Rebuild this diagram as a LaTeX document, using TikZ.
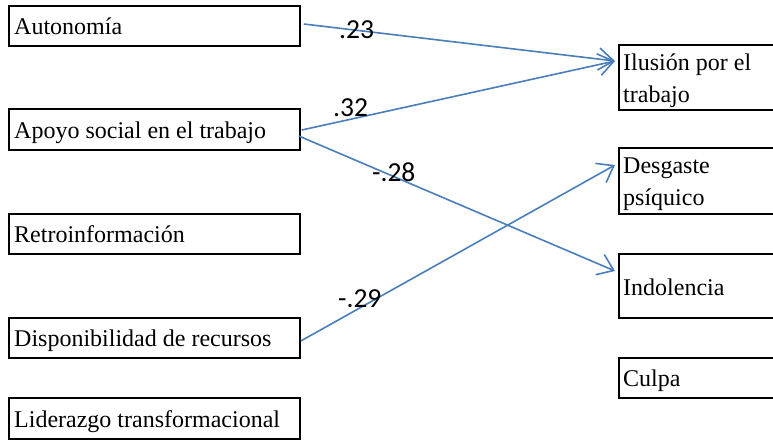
\documentclass[tikz,border=0pt]{standalone}
\usepackage{fontspec}
\setmainfont{Liberation Serif}
\newfontfamily\lblfont{Carlito}
\usetikzlibrary{arrows.meta,calc}
\definecolor{lineblue}{RGB}{74,126,187}
\begin{document}
\begin{tikzpicture}[x=1pt,y=-1pt,
  box/.style={draw=black,line width=1.8pt,anchor=north west,inner sep=0pt,minimum width=#1},
  box/.default=291pt,
  txt/.style={anchor=base west,inner sep=0pt,font=\fontsize{24}{28}\selectfont},
  coef/.style={anchor=base west,inner sep=0pt,font=\lblfont\fontsize{27.5}{30}\selectfont},
  path/.style={draw=lineblue,line width=1.6pt,-{Straight Barb[length=15pt,width=22pt,line width=1.6pt]}}]
\useasboundingbox (0,0) rectangle (773,440);
% left boxes
\node[box,minimum height=40pt] (aut) at (8,5) {};
\node[box,minimum height=41pt] (apo) at (8,108) {};
\node[box,minimum height=40pt] (ret) at (8,213) {};
\node[box,minimum height=40pt] (dis) at (8,317) {};
\node[box,minimum height=41pt] (lid) at (8,397) {};
% right boxes
\node[box=170pt,minimum height=65pt] (ilu) at (618,44) {};
\node[box=170pt,minimum height=66pt] (des) at (618,147) {};
\node[box=170pt,minimum height=64pt] (ind) at (618,253) {};
\node[box=170pt,minimum height=40pt] (cul) at (618,357) {};
% texts
\node[txt] (tAut) at (14,34) {Autonomía};
\node[txt] (tApo) at (14,138) {Apoyo social en el trabajo};
\node[txt] (tRet) at (14,242) {Retroinformación};
\node[txt] (tDis) at (14,346) {Disponibilidad de recursos};
\node[txt] (tLid) at (14,427) {Liderazgo transformacional};
\node[txt] (tIlu1) at (623,70) {Ilusión por el};
\node[txt] (tIlu2) at (623,102) {trabajo};
\node[txt] (tDes1) at (623,173) {Desgaste};
\node[txt] (tDes2) at (623,205) {psíquico};
\node[txt] (tInd) at (623,295) {Indolencia};
\node[txt] (tCul) at (623,386) {Culpa};
% connection points
\coordinate (aOut) at ($(aut.north east)+(3,19)$);
\coordinate (pOut1) at ($(apo.north east)+(1,22)$);
\coordinate (pOut2) at ($(apo.north east)+(-2,28)$);
\coordinate (dOut) at ($(dis.north east)+(0,24)$);
\coordinate (iIn) at ($(ilu.north west)+(-3,17)$);
\coordinate (eIn) at ($(des.north west)+(-3,18)$);
\coordinate (nIn) at ($(ind.north west)+(-3,18)$);
% arrows
\draw[path] (aOut) -- (iIn);
\draw[path] (pOut1) -- (iIn);
\draw[path] (pOut2) -- (nIn);
\draw[path] (dOut) -- (eIn);
% coefficients
\node[coef] (c1) at (339,38) {.23};
\node[coef] (c2) at (333,116) {.32};
\node[coef] (c3) at (372,181) {-.28};
\node[coef] (c4) at (338,307) {-.29};
\end{tikzpicture}
\end{document}
